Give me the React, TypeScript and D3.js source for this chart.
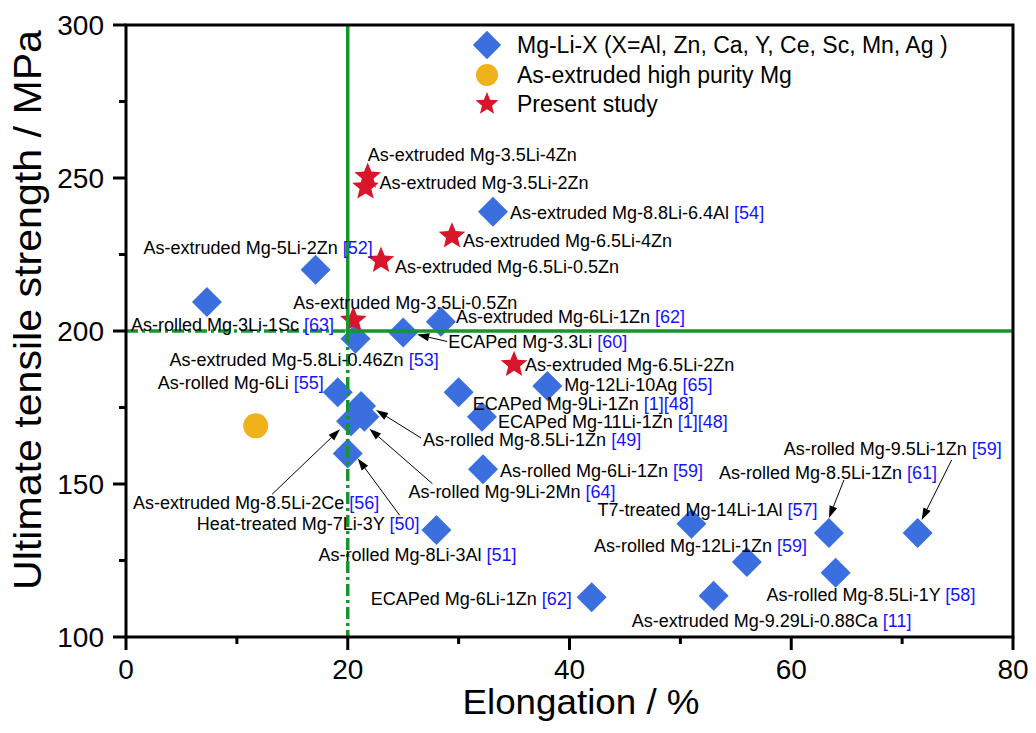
import React from 'react';
import * as d3 from 'd3';

// Mg-Li-X alloys from literature: elongation (%), UTS (MPa)
const alloyNames = [
  'As-rolled Mg-3Li-1Sc', 'As-extruded Mg-5Li-2Zn', 'As-extruded Mg-8.8Li-6.4Al', 'As-extruded Mg-6Li-1Zn',
  'ECAPed Mg-3.3Li', 'As-extruded Mg-5.8Li-0.46Zn', 'Mg-12Li-10Ag', 'ECAPed Mg-9Li-1Zn',
  'ECAPed Mg-11Li-1Zn', 'As-rolled Mg-6Li', 'As-rolled Mg-8.5Li-1Zn', 'As-rolled Mg-9Li-2Mn',
  'As-extruded Mg-8.5Li-2Ce', 'Heat-treated Mg-7Li-3Y', 'As-rolled Mg-6Li-1Zn', 'As-rolled Mg-8Li-3Al',
  'ECAPed Mg-6Li-1Zn', 'T7-treated Mg-14Li-1Al', 'As-rolled Mg-12Li-1Zn', 'As-rolled Mg-8.5Li-1Zn',
  'As-rolled Mg-9.5Li-1Zn', 'As-rolled Mg-8.5Li-1Y', 'As-extruded Mg-9.29Li-0.88Ca',
];
const alloyRefs = [
  '[63]', '[52]', '[54]', '[62]', '[60]', '[53]', '[65]', '[1][48]', '[1][48]', '[55]', '[49]', '[64]',
  '[56]', '[50]', '[59]', '[51]', '[62]', '[57]', '[59]', '[61]', '[59]', '[58]', '[11]',
];
const alloyElong = [7.3, 17.1, 33.1, 28.4, 25.0, 20.7, 38.0, 30.0, 32.1, 19.1, 21.2, 21.5, 20.3, 20.0, 32.2, 28.0, 42.0, 51.0, 56.0, 63.4, 71.4, 64.0, 53.0];
const alloyUts = [209.5, 220, 239, 203, 199.5, 197.5, 182, 180, 172, 180, 175.5, 172, 170.5, 160, 154.8, 135, 113, 137, 124.5, 134, 134, 121, 113.5];

// as-extruded high purity Mg
const pureElong = [11.7];
const pureUts = [169];

// present study
const studyNames = [
  'As-extruded Mg-3.5Li-4Zn', 'As-extruded Mg-3.5Li-2Zn', 'As-extruded Mg-6.5Li-4Zn',
  'As-extruded Mg-6.5Li-0.5Zn', 'As-extruded Mg-3.5Li-0.5Zn', 'As-extruded Mg-6.5Li-2Zn',
];
const studyElong = [21.8, 21.6, 29.4, 23.0, 20.5, 35.0];
const studyUts = [250.5, 247, 231, 223, 203.5, 189];

const xTicks = [0, 20, 40, 60, 80];
const yTicks = [100, 150, 200, 250, 300];
const legendItems = ['Mg-Li-X (X=Al, Zn, Ca, Y, Ce, Sc, Mn, Ag )', 'As-extruded high purity Mg', 'Present study'];

// label placement (px offset from marker)
const alloyLabelOff = [
  [-76, 23], [-172, -22], [17, 1], [15, -5], [45, 9], [-186, 21], [17, -1], [14, 11],
  [16, 5], [-180, -10], [62, 34], [44, 75], [-218, 81], [-151, 70], [17, 1], [-118, 25],
  [-221, 1], [-94, -14], [-153, -16], [-110, -60], [-134, -84], [-69, 22], [-82, 25],
];
const studyLabelOff = [[0, -22], [14, -4], [11, 5], [14, 6], [-60, -18], [11, 0]];
// arrows: index -> [startDx, startDy, tipDx, tipDy]
const alloyArrows: Record<number, number[]> = {
  4: [44, 9, 14, 2],
  10: [60, 32, 15, 4],
  11: [68, 67, 5, 12],
  12: [-79, 73, -11, 8],
  13: [52, 62, 10, 5],
  19: [15, -53, 0, -15],
  20: [34, -73, 4, -13],
};

const L = 126, R = 1013, T = 25, B = 637;
const FONT = '"Liberation Sans", Arial, Helvetica, sans-serif';
const BLUE = '#3b6fe0';
const RED = '#d8152b';
const ORANGE = '#efb21c';
const GREEN = '#14962c';
const REF = '#1414ff';

const x = d3.scaleLinear().domain([0, 80]).range([L, R]);
const y = d3.scaleLinear().domain([100, 300]).range([B, T]);

const diamond = d3.symbol().type(d3.symbolSquare).size(450)();
const diamondSmall = d3.symbol().type(d3.symbolSquare).size(400)();

function starPath(outer: number, inner: number) {
  const pts: [number, number][] = d3.range(10).map((i) => {
    const r = i % 2 === 0 ? outer : inner;
    const a = (i * Math.PI) / 5 - Math.PI / 2;
    return [r * Math.cos(a), r * Math.sin(a)];
  });
  return d3.line()(pts) + 'Z';
}
const star = starPath(14, 6.2);
const starSmall = starPath(12, 5.3);

function Arrow({ sx, sy, tx, ty }: { sx: number; sy: number; tx: number; ty: number }) {
  const ang = Math.atan2(ty - sy, tx - sx);
  const len = 12, wid = 4;
  const bx = tx - len * Math.cos(ang), by = ty - len * Math.sin(ang);
  const p1 = [bx + wid * Math.sin(ang), by - wid * Math.cos(ang)];
  const p2 = [bx - wid * Math.sin(ang), by + wid * Math.cos(ang)];
  return (
    <g>
      <line x1={sx} y1={sy} x2={bx} y2={by} stroke="#000" strokeWidth={1} />
      <path d={`M${tx},${ty}L${p1[0]},${p1[1]}L${p2[0]},${p2[1]}Z`} fill="#000" />
    </g>
  );
}

export default function App() {
  const x20 = x(20), y200 = y(200);
  return (
    <div style={{ position: 'absolute', left: 0, top: 0 }}>
      <svg width={1036} height={733} style={{ display: 'block', background: '#fff' }} fontFamily={FONT}>
        {/* markers */}
        {alloyElong.map((e, i) => (
          <path key={'d' + i} d={diamond} fill={BLUE} transform={`translate(${x(e)},${y(alloyUts[i])}) rotate(45)`} />
        ))}
        {pureElong.map((e, i) => (
          <circle key={'c' + i} cx={x(e)} cy={y(pureUts[i])} r={12.5} fill={ORANGE} />
        ))}
        {studyElong.map((e, i) => (
          <path key={'s' + i} d={star} fill={RED} transform={`translate(${x(e)},${y(studyUts[i])})`} />
        ))}

        {/* reference lines */}
        <line x1={x20} y1={T} x2={x20} y2={y200} stroke={GREEN} strokeWidth={3.5} />
        <line x1={x20} y1={y200} x2={x20} y2={B} stroke={GREEN} strokeWidth={3.5} strokeDasharray="12,4,3,4" />
        <line x1={x20} y1={y200} x2={R} y2={y200} stroke={GREEN} strokeWidth={3.5} />
        <line x1={L} y1={y200} x2={x20} y2={y200} stroke={GREEN} strokeWidth={3.5} strokeDasharray="12,4,3,4" />

        {/* arrows */}
        {Object.entries(alloyArrows).map(([k, a]) => {
          const i = +k;
          const px = x(alloyElong[i]), py = y(alloyUts[i]);
          return <Arrow key={'a' + k} sx={px + a[0]} sy={py + a[1]} tx={px + a[2]} ty={py + a[3]} />;
        })}

        {/* labels */}
        {alloyNames.map((n, i) => (
          <text key={'l' + i} x={x(alloyElong[i]) + alloyLabelOff[i][0]} y={y(alloyUts[i]) + alloyLabelOff[i][1]} dy="0.35em" fontSize={18} fill="#000">
            {n} <tspan fill={REF}>{alloyRefs[i]}</tspan>
          </text>
        ))}
        {studyNames.map((n, i) => (
          <text key={'sl' + i} x={x(studyElong[i]) + studyLabelOff[i][0]} y={y(studyUts[i]) + studyLabelOff[i][1]} dy="0.35em" fontSize={18} fill="#000">
            {n}
          </text>
        ))}

        {/* legend */}
        <path d={diamondSmall} fill={BLUE} transform={`translate(487,45) rotate(45)`} />
        <circle cx={487} cy={75} r={11} fill={ORANGE} />
        <path d={starSmall} fill={RED} transform={`translate(487,104)`} />
        {legendItems.map((t, i) => (
          <text key={'lg' + i} x={517} y={45 + i * 29.5} dy="0.35em" fontSize={23} fill="#000">{t}</text>
        ))}

        {/* frame */}
        <rect x={L} y={T} width={R - L} height={B - T} fill="none" stroke="#000" strokeWidth={3} />

        {/* y axis */}
        {yTicks.map((t) => (
          <g key={'yt' + t}>
            <line x1={L - 13} x2={L} y1={y(t)} y2={y(t)} stroke="#000" strokeWidth={3} />
            <text x={104} y={y(t)} dy="0.35em" textAnchor="end" fontSize={28}>{t}</text>
          </g>
        ))}
        {d3.range(125, 300, 50).map((t) => (
          <line key={'ym' + t} x1={L - 7} x2={L} y1={y(t)} y2={y(t)} stroke="#000" strokeWidth={3} />
        ))}
        {/* x axis */}
        {xTicks.map((t) => (
          <g key={'xt' + t}>
            <line x1={x(t)} x2={x(t)} y1={B} y2={B + 13} stroke="#000" strokeWidth={3} />
            <text x={x(t)} y={669} dy="0.35em" textAnchor="middle" fontSize={28}>{t}</text>
          </g>
        ))}
        {d3.range(10, 80, 20).map((t) => (
          <line key={'xm' + t} x1={x(t)} x2={x(t)} y1={B} y2={B + 7} stroke="#000" strokeWidth={3} />
        ))}

        {/* axis titles */}
        <text x={581} y={714} textAnchor="middle" fontSize={35} textLength={237} lengthAdjust="spacingAndGlyphs">Elongation / %</text>
        <text transform="translate(41,310) rotate(-90)" textAnchor="middle" fontSize={38} textLength={560} lengthAdjust="spacingAndGlyphs">Ultimate tensile strength / MPa</text>
      </svg>
    </div>
  );
}
